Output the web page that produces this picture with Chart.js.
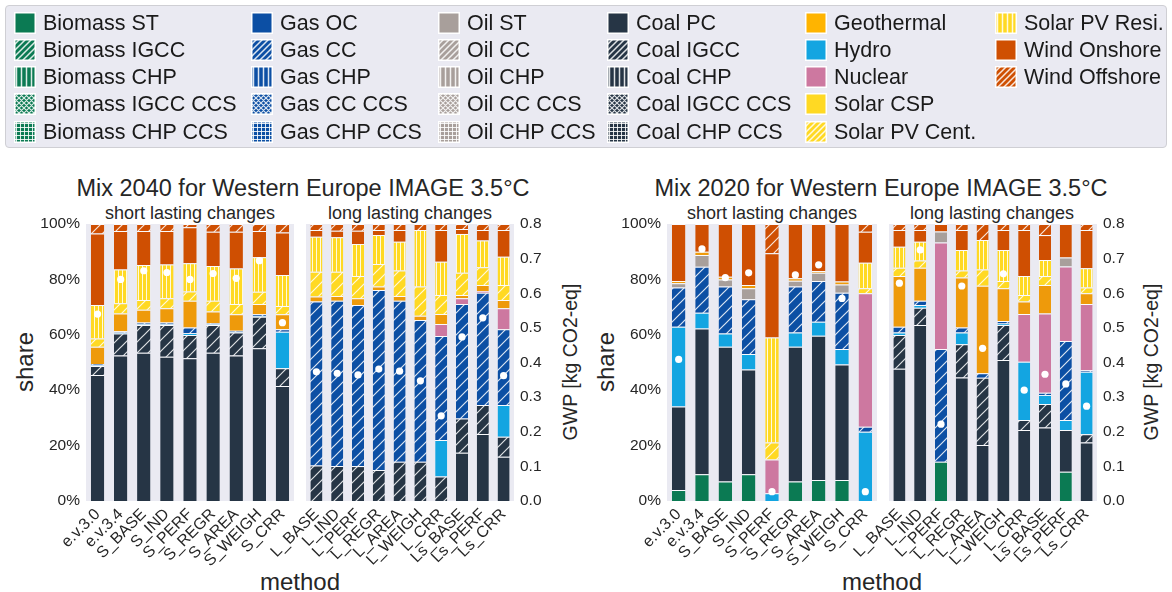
<!DOCTYPE html>
<html>
<head>
<meta charset="utf-8">
<script src="https://cdn.jsdelivr.net/npm/chart.js@4.4.1/dist/chart.umd.min.js"></script>
<style>
  html, body { margin: 0; padding: 0; background: #fff; }
  #page { position: relative; width: 1172px; height: 592px; overflow: hidden;
          font-family: 'Liberation Sans', Arial, Helvetica, sans-serif; color: #262626; }
  .txt { position: absolute; white-space: nowrap; line-height: 1; }
  canvas { position: absolute; }
  #legend { position: absolute; left: 5px; top: 5px; width: 1160px; height: 141px;
            background: #eaeaf2; border: 1px solid #cfcfd4; border-radius: 4px; }
  .lg { position: absolute; height: 22px; display: flex; align-items: center; font-size: 21.5px; color: #1a1a1a; white-space: nowrap; }
  .lg canvas { position: static; margin-right: 7px; }
</style>
</head>
<body>
<div id="page">
  <div id="legend"></div>
</div>
<script>
// ---- categories ----
const methodsShort = ['e.v.3.0', 'e.v.3.4', 'S_BASE', 'S_IND', 'S_PERF', 'S_REGR', 'S_AREA', 'S_WEIGH', 'S_CRR'];
const methodsLong = ['L_BASE', 'L_IND', 'L_PERF', 'L_REGR', 'L_AREA', 'L_WEIGH', 'L_CRR', 'Ls_BASE', 'Ls_PERF', 'Ls_CRR'];

// ---- axis ticks ----
const shareTicks = [0, 20, 40, 60, 80, 100];
const gwpTicks = [0.0, 0.1, 0.2, 0.3, 0.4, 0.5, 0.6, 0.7, 0.8];

// ---- electricity mix shares (%) per technology, one entry per method ----
const mix2040Short = {
  'Coal PC':        [45.5, 52.5, 53.5, 52.1, 51.5, 53.5, 52.5, 55.1, 41.5],
  'Coal IGCC':      [ 3.2,  8.0, 10.0, 11.4,  8.4, 10.0,  8.3, 11.4,  6.4],
  'Hydro':          [ 0.3,  0.3,  0.3,  0.3,  0.7,  0.3,  0.3,  0.3, 13.2],
  'Gas CC':         [ 0.5,  0.5,  0.6,  0.6,  2.0,  0.4,  0.4,  0.6,  0.9],
  'Geothermal':     [ 6.2,  6.4,  4.6,  5.2,  9.7,  4.2,  5.9,  3.7,  5.4],
  'Solar PV Cent.': [ 3.0,  3.7,  3.6,  3.6,  3.3,  3.9,  3.7,  4.4,  3.0],
  'Solar PV Resi.': [12.1, 12.2, 12.6, 12.2, 10.2, 12.5, 12.8, 12.5, 11.2],
  'Wind Onshore':   [25.8, 13.9, 12.3, 12.1, 13.0, 12.4, 13.3,  9.5, 15.3],
  'Wind Offshore':  [ 3.4,  2.5,  2.5,  2.5,  1.2,  2.8,  2.8,  2.5,  3.1]
};
const mix2040Long = {
  'Coal PC':        [ 0.0,  0.0,  0.0,  0.0,  0.0,  0.0,  0.0, 17.4, 24.2, 16.0],
  'Coal IGCC':      [12.8, 12.6, 12.6, 11.2, 14.2, 14.2,  8.8, 12.4, 10.5,  7.2],
  'Hydro':          [ 0.0,  0.0,  0.0,  0.0,  0.0,  0.0, 13.2,  0.0,  0.0, 11.5],
  'Gas CC':         [59.2, 59.7, 58.2, 65.0, 58.1, 51.1, 37.6, 41.3, 40.5, 27.3],
  'Nuclear':        [ 0.0,  0.0,  0.0,  0.0,  0.0,  0.0,  4.3,  2.1,  0.6,  7.6],
  'Geothermal':     [ 1.8,  1.7,  2.4,  1.2,  1.7,  1.6,  3.6,  1.2,  2.2,  3.0],
  'Solar PV Cent.': [ 9.0,  8.8,  8.0,  8.2,  9.2, 10.5,  6.9,  8.0,  6.4,  5.4],
  'Solar PV Resi.': [12.6, 12.4, 11.6, 10.4, 10.4, 20.4, 12.0, 14.0,  9.6, 10.2],
  'Wind Onshore':   [ 2.4,  2.4,  4.8,  1.8,  4.2,  0.0, 11.4,  1.8,  3.8,  9.6],
  'Wind Offshore':  [ 2.2,  2.4,  2.4,  2.2,  2.2,  2.2,  2.2,  1.8,  2.2,  2.2]
};
const mix2020Short = {
  'Biomass ST':     [ 4.0,  9.7,  7.0,  9.7,  0.0,  7.0,  7.6,  7.6,  0.0],
  'Coal PC':        [30.1, 52.6, 48.7, 37.8,  0.0, 48.7, 52.1, 41.7,  0.0],
  'Hydro':          [28.8,  5.7,  4.8,  5.6,  2.8,  5.1,  5.0,  5.6, 25.0],
  'Gas CC':         [14.2, 16.6, 16.9, 19.7,  0.0, 16.6, 14.7, 20.3,  1.8],
  'Nuclear':        [ 0.0,  0.0,  0.0,  0.0, 12.2,  0.0,  0.0,  0.0, 48.2],
  'Oil ST':         [ 1.5,  4.2,  2.6,  4.0,  0.0,  2.1,  3.0,  3.0,  0.0],
  'Geothermal':     [ 0.8,  1.2,  1.0,  1.2,  0.0,  0.9,  0.6,  1.0,  0.0],
  'Solar PV Cent.': [ 0.0,  0.0,  0.0,  0.0,  6.1,  0.0,  0.0,  0.0,  1.8],
  'Solar PV Resi.': [ 0.0,  0.0,  0.0,  0.0, 37.9,  0.0,  0.0,  0.0,  9.2],
  'Wind Onshore':   [20.6, 10.0, 19.0, 22.0, 30.4, 19.6, 17.0, 20.8, 11.2],
  'Wind Offshore':  [ 0.0,  0.0,  0.0,  0.0, 10.6,  0.0,  0.0,  0.0,  2.8]
};
const mix2020Long = {
  'Biomass ST':     [ 0.0,  0.0, 14.2,  0.0,  0.0,  0.0,  0.0,  0.0, 10.6,  0.0],
  'Coal PC':        [47.7, 63.5,  0.0, 44.6, 20.2, 50.9, 25.6, 26.5, 15.0, 21.1],
  'Coal IGCC':      [12.2,  6.3,  0.0, 12.0, 24.3, 12.6,  3.6,  8.5,  0.0,  3.0],
  'Hydro':          [ 0.9,  1.0,  0.0,  4.2,  0.0,  0.6, 21.1,  3.3,  3.6, 22.6],
  'Gas CC':         [ 2.1,  1.5, 40.7,  1.8,  1.6,  0.9,  0.0,  0.8, 28.6,  0.5],
  'Nuclear':        [ 0.0,  0.0, 38.4,  0.0,  0.0,  0.0, 17.2, 28.6, 26.9, 23.9],
  'Oil ST':         [ 0.0,  0.0,  4.0,  0.0,  0.0,  0.0,  0.0,  0.0,  3.2,  0.0],
  'Geothermal':     [18.3, 11.9,  0.0, 18.1, 31.6, 11.8,  4.5, 10.3,  0.0,  3.9],
  'Solar PV Cent.': [ 3.0,  2.6,  0.0,  2.5,  5.9,  2.6,  2.4,  3.2,  0.0,  2.1],
  'Solar PV Resi.': [ 7.6,  6.8,  0.0,  7.4, 10.6, 11.2,  6.8,  5.8,  0.0,  6.9],
  'Wind Onshore':   [ 6.0,  4.2,  2.7,  7.2,  0.0,  7.2, 16.6,  9.0, 12.1, 13.8],
  'Wind Offshore':  [ 2.2,  2.2,  0.0,  2.2,  5.8,  2.2,  2.2,  4.0,  0.0,  2.2]
};

// ---- global warming potential of each mix [kg CO2-eq / kWh] ----
const gwp2040Short = [0.540, 0.640, 0.665, 0.660, 0.640, 0.657, 0.643, 0.694, 0.515];
const gwp2040Long  = [0.373, 0.369, 0.364, 0.381, 0.375, 0.347, 0.246, 0.474, 0.529, 0.362];
const gwp2020Short = [0.409, 0.728, 0.645, 0.659, 0.027, 0.653, 0.682, 0.585, 0.027];
const gwp2020Long  = [0.629, 0.725, 0.222, 0.621, 0.441, 0.656, 0.320, 0.366, 0.338, 0.274];

// ---- technology styling ----
const FONT = "'Liberation Sans', Arial, Helvetica, sans-serif";
const INK = '#262626';
const familyColor = {
  Biomass: '#0b7a53', Gas: '#0c4fa4', Oil: '#a89f9b', Coal: '#263545'
};
const plainColor = {
  'Geothermal': '#ee9a0b', 'Hydro': '#13a5e1', 'Nuclear': '#cd78a0', 'Solar CSP': '#ffd923',
  'Solar PV Cent.': '#ffd923', 'Solar PV Resi.': '#ffd923', 'Wind Onshore': '#cf4f02', 'Wind Offshore': '#cf4f02'
};
const legendColorOverride = { 'Geothermal': '#ffb400' };
const plainHatch = { 'Solar PV Cent.': '/', 'Solar PV Resi.': '|', 'Wind Offshore': '/' };

const legendColumns = [
  ['Biomass ST', 'Biomass IGCC', 'Biomass CHP', 'Biomass IGCC CCS', 'Biomass CHP CCS'],
  ['Gas OC', 'Gas CC', 'Gas CHP', 'Gas CC CCS', 'Gas CHP CCS'],
  ['Oil ST', 'Oil CC', 'Oil CHP', 'Oil CC CCS', 'Oil CHP CCS'],
  ['Coal PC', 'Coal IGCC', 'Coal CHP', 'Coal IGCC CCS', 'Coal CHP CCS'],
  ['Geothermal', 'Hydro', 'Nuclear', 'Solar CSP', 'Solar PV Cent.'],
  ['Solar PV Resi.', 'Wind Onshore', 'Wind Offshore']
];

// bottom-to-top order of the stacked segments
const stackOrder = [
  'Biomass ST', 'Biomass IGCC', 'Biomass CHP', 'Biomass IGCC CCS', 'Biomass CHP CCS',
  'Coal PC', 'Coal IGCC', 'Coal CHP', 'Coal IGCC CCS', 'Coal CHP CCS',
  'Hydro',
  'Gas OC', 'Gas CC', 'Gas CHP', 'Gas CC CCS', 'Gas CHP CCS',
  'Nuclear',
  'Oil ST', 'Oil CC', 'Oil CHP', 'Oil CC CCS', 'Oil CHP CCS',
  'Geothermal', 'Solar CSP', 'Solar PV Cent.', 'Solar PV Resi.', 'Wind Onshore', 'Wind Offshore'
];

function techStyle(name) {
  if (plainColor[name]) return { color: plainColor[name], hatch: plainHatch[name] || '' };
  const fam = name.split(' ')[0];
  const rest = name.slice(fam.length + 1);
  let hatch = '';
  if (rest === 'IGCC' || rest === 'CC') hatch = '/';
  else if (rest === 'CHP') hatch = '|';
  else if (rest === 'IGCC CCS' || rest === 'CC CCS') hatch = 'x';
  else if (rest === 'CHP CCS') hatch = '+';
  return { color: familyColor[fam], hatch };
}

// Draw a single hatch tile: coloured fill with white strokes
function hatchTile(color, kind, s, lw) {
  const c = document.createElement('canvas');
  c.width = s; c.height = s;
  const g = c.getContext('2d');
  g.fillStyle = color;
  g.fillRect(0, 0, s, s);
  if (!kind) return c;
  g.strokeStyle = 'rgba(255,255,255,0.85)';
  g.lineWidth = lw;
  g.beginPath();
  if (kind === '/' || kind === 'x') {
    g.moveTo(-1, s + 1); g.lineTo(s + 1, -1);
    g.moveTo(-1, 1); g.lineTo(1, -1);
    g.moveTo(s - 1, s + 1); g.lineTo(s + 1, s - 1);
  }
  if (kind === 'x') {
    g.moveTo(-1, -1); g.lineTo(s + 1, s + 1);
    g.moveTo(s - 1, -1); g.lineTo(s + 1, 1);
    g.moveTo(-1, s - 1); g.lineTo(1, s + 1);
  }
  if (kind === '|' || kind === '+') {
    const x = Math.floor(s / 2) + 0.5;
    g.moveTo(x, 0); g.lineTo(x, s);
  }
  if (kind === '+') {
    const y = Math.floor(s / 2) + 0.5;
    g.moveTo(0, y); g.lineTo(s, y);
  }
  g.stroke();
  return c;
}

const patternCtx = document.createElement('canvas').getContext('2d');
const barTileSpec = { '/': [11, 1.2], '|': [4, 1], 'x': [6, 1], '+': [5, 1] };
function barFill(name) {
  const st = techStyle(name);
  if (!st.hatch) return st.color;
  const [s, lw] = barTileSpec[st.hatch];
  return patternCtx.createPattern(hatchTile(st.color, st.hatch, s, lw), 'repeat');
}

// ---- legend ----
const legendTileSpec = { '/': [6, 1.5], '|': [5, 1.5], 'x': [5, 1.2], '+': [4, 1] };
const legendColX = [8, 245, 432, 601, 799, 989];
const legendRowY = [17, 44, 71, 98, 126];
const legendEl = document.getElementById('legend');
legendColumns.forEach((col, ci) => {
  col.forEach((name, ri) => {
    const item = document.createElement('div');
    item.className = 'lg';
    item.style.left = legendColX[ci] + 'px';
    item.style.top = (legendRowY[ri] - 11) + 'px';
    const sw = document.createElement('canvas');
    sw.width = 22; sw.height = 22;
    const g = sw.getContext('2d');
    g.fillStyle = '#ffffff';
    g.fillRect(0, 0, 22, 22);
    const st = techStyle(name);
    const color = legendColorOverride[name] || st.color;
    if (st.hatch) {
      const [s, lw] = legendTileSpec[st.hatch];
      g.fillStyle = g.createPattern(hatchTile(color, st.hatch, s, lw), 'repeat');
    } else {
      g.fillStyle = color;
    }
    g.fillRect(1.5, 1.5, 19, 19);
    item.appendChild(sw);
    const t = document.createElement('span');
    t.textContent = name;
    item.appendChild(t);
    legendEl.appendChild(item);
  });
});

// ---- free-standing text (titles, axis titles) ----
const page = document.getElementById('page');
function addText(str, x, y, size, rotate) {
  const d = document.createElement('div');
  d.className = 'txt';
  d.textContent = str;
  d.style.fontSize = size + 'px';
  d.style.left = x + 'px';
  d.style.top = y + 'px';
  d.style.transform = 'translate(-50%, -50%)' + (rotate ? ' rotate(-90deg)' : '');
  page.appendChild(d);
}
addText('Mix 2040 for Western Europe IMAGE 3.5°C', 303, 189, 23.5);
addText('Mix 2020 for Western Europe IMAGE 3.5°C', 881, 189, 23.5);
addText('short lasting changes', 190, 213, 18);
addText('long lasting changes', 410, 213, 18);
addText('short lasting changes', 772, 213, 18);
addText('long lasting changes', 992, 213, 18);
addText('share', 25, 362, 24, true);
addText('share', 606, 362, 24, true);
addText('GWP [kg CO2-eq]', 571, 362, 19.5, true);
addText('GWP [kg CO2-eq]', 1152, 362, 19.5, true);
addText('method', 300, 582, 24);
addText('method', 882, 582, 24);

// ---- panels ----
Chart.defaults.font.family = FONT;
Chart.defaults.color = INK;

const panelBackground = {
  id: 'panelBackground',
  beforeDraw(chart) {
    const { ctx, chartArea: a } = chart;
    ctx.save();
    ctx.fillStyle = '#eaeaf2';
    ctx.fillRect(a.left, a.top, a.right - a.left, a.bottom - a.top);
    ctx.restore();
  }
};

const PLOT_TOP = 224, PLOT_H = 277, X_AXIS_H = 90, TOP_PAD = 20;
const SHARE_AXIS_W = 86, GWP_AXIS_W = 64, EMPTY_SIDE_W = 60;

function makePanel(plotL, plotR, labels, shares, gwp, side) {
  const leftW = side === 'left' ? SHARE_AXIS_W : EMPTY_SIDE_W;
  const rightW = side === 'right' ? GWP_AXIS_W : EMPTY_SIDE_W;
  const cv = document.createElement('canvas');
  cv.width = leftW + (plotR - plotL) + rightW;
  cv.height = TOP_PAD + PLOT_H + X_AXIS_H;
  cv.style.left = (plotL - leftW) + 'px';
  cv.style.top = (PLOT_TOP - TOP_PAD) + 'px';
  page.appendChild(cv);

  const datasets = stackOrder.filter(n => shares[n]).map(n => ({
    type: 'bar',
    label: n,
    data: shares[n],
    backgroundColor: barFill(n),
    borderColor: 'rgba(255,255,255,0.8)',
    borderWidth: { top: 1, left: 0, right: 0, bottom: 0 },
    borderSkipped: false,
    barPercentage: 0.58,
    categoryPercentage: 1.0,
    yAxisID: 'y',
    order: 1
  }));
  datasets.push({
    type: 'line',
    label: 'GWP',
    data: gwp,
    yAxisID: 'y2',
    showLine: false,
    pointRadius: 3.6,
    pointBackgroundColor: '#ffffff',
    pointBorderWidth: 0,
    order: 0
  });

  const noGrid = { display: false, drawTicks: false };
  new Chart(cv, {
    data: { labels, datasets },
    options: {
      responsive: false,
      animation: false,
      devicePixelRatio: 1,
      events: [],
      layout: { padding: { left: 0, right: 0, top: TOP_PAD, bottom: 0 } },
      plugins: { legend: { display: false }, tooltip: { enabled: false } },
      scales: {
        x: {
          stacked: true,
          grid: noGrid,
          border: { display: false },
          ticks: { autoSkip: false, minRotation: 45, maxRotation: 45, padding: 4, color: INK, font: { size: 16 } },
          afterFit(s) { s.height = X_AXIS_H; }
        },
        y: {
          stacked: true,
          position: 'left',
          min: 0, max: 100,
          grid: noGrid,
          border: { display: false },
          afterBuildTicks(s) { s.ticks = shareTicks.map(v => ({ value: v })); },
          ticks: { display: side === 'left', padding: 6, color: INK, font: { size: 15.5 }, callback: v => v + '%' },
          afterFit(s) { s.width = leftW; }
        },
        y2: {
          position: 'right',
          min: 0, max: 0.8,
          grid: noGrid,
          border: { display: false },
          afterBuildTicks(s) { s.ticks = gwpTicks.map(v => ({ value: v })); },
          ticks: { display: side === 'right', padding: 6, color: INK, font: { size: 15.5 }, callback: v => Number(v).toFixed(1) },
          afterFit(s) { s.width = rightW; }
        }
      }
    },
    plugins: [panelBackground]
  });
}

makePanel(86, 294, methodsShort, mix2040Short, gwp2040Short, 'left');
makePanel(306, 514, methodsLong, mix2040Long, gwp2040Long, 'right');
makePanel(667, 877, methodsShort, mix2020Short, gwp2020Short, 'left');
makePanel(889, 1097, methodsLong, mix2020Long, gwp2020Long, 'right');
</script>
</body>
</html>
